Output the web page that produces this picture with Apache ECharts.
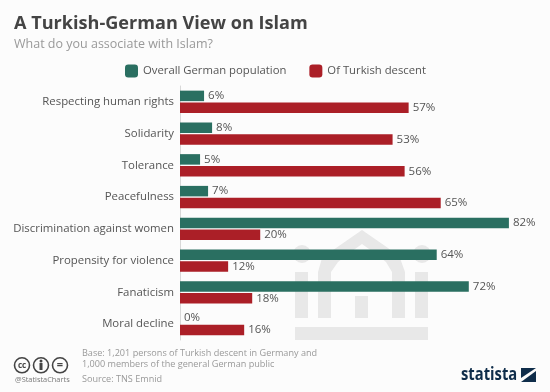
<!DOCTYPE html>
<html><head><meta charset="utf-8">
<style>html,body{margin:0;padding:0;background:#fcfcfc}#c{width:550px;height:392px}</style>
<script src="https://cdn.jsdelivr.net/npm/echarts@6/dist/echarts.min.js"></script></head>
<body><div id="c"></div>
<script>
const categories=["Respecting human rights","Solidarity","Tolerance","Peacefulness","Discrimination against women","Propensity for violence","Fanaticism","Moral decline"];
const germanPopulation=[6,8,5,7,82,64,72,0];
const turkishDescent=[57,53,56,65,20,12,18,16];
const seriesNames=["Overall German population","Of Turkish descent"];
const FONT='"Open Sans"';
const chart=echarts.init(document.getElementById('c'),null,{renderer:'canvas'});
const wm='#e8e8e8';
const logo='#0f2d4a';
function t(x,y,text,size,color,weight,extra){return {type:'text',z:5,x:x,y:y,style:Object.assign({text:text,fontFamily:FONT,fontSize:size,fill:color,fontWeight:weight||'normal',textVerticalAlign:'middle'},extra||{})};}
function r(x,y,w,h,c){return {type:'rect',z:0,shape:{x:x,y:y,width:w,height:h},style:{fill:c}};}
function circ(x,y,rad,c){return {type:'circle',z:0,shape:{cx:x,cy:y,r:rad},style:{fill:c}};}
function ring(x,y,c){return {type:'circle',z:5,shape:{cx:x,cy:y,r:7.5},style:{fill:'none',stroke:c,lineWidth:1.6}};}
chart.setOption({
  backgroundColor:'#fcfcfc',animation:false,
  textStyle:{fontFamily:FONT},
  legend:{left:120,top:59.5,itemWidth:13,itemHeight:13,itemGap:23,icon:'roundRect',
    textStyle:{fontFamily:FONT,fontSize:11.3,color:'#555'},data:seriesNames},
  grid:{left:180,top:86,width:361,height:254,containLabel:false,outerBoundsMode:'none'},
  xAxis:{type:'value',min:0,max:90,show:false},
  yAxis:{type:'category',inverse:true,data:categories,
    axisLine:{show:true,lineStyle:{color:'#d8d8d8',width:1}},axisTick:{show:false},
    axisLabel:{fontFamily:FONT,fontSize:11.4,color:'#555',margin:6}},
  series:[
    {name:seriesNames[0],type:'bar',barWidth:10.5,barGap:'14%',z:2,
     itemStyle:{color:'#2a6f61'},
     label:{show:true,position:'right',distance:4,formatter:'{c}%',fontFamily:FONT,fontSize:11.5,color:'#555'},
     data:germanPopulation},
    {name:seriesNames[1],type:'bar',barWidth:10.5,z:2,
     itemStyle:{color:'#ab1f27'},
     label:{show:true,position:'right',distance:4,formatter:'{c}%',fontFamily:FONT,fontSize:11.5,color:'#555'},
     data:turkishDescent}
  ],
  graphic:[
    r(295,272,13,46,wm),r(392,272,13,46,wm),r(415,272,13,46,wm),r(355,296,13,22,wm),r(295,327,133,13,wm),
    circ(302,254,9,wm),circ(422,254,9,wm),
    {type:'polygon',z:0,shape:{points:[[318,318],[318,272],[322,258],[336,248],[362,230],[388,248],[400,258],[405,272],[405,318],[392,318],[392,272],[386,262],[376,254],[362,244],[348,254],[338,262],[331,272],[331,318]]},style:{fill:wm}},
    t(14,24,'A Turkish-German View on Islam',18.1,'#444','bold'),
    t(14,44,'What do you associate with Islam?',12.5,'#999'),
    t(82,353.5,'Base: 1,201 persons of Turkish descent in Germany and',9.1,'#999'),
    t(82,364.5,'1,000 members of the general German public',9.1,'#999'),
    t(82,379,'Source: TNS Emnid',9.1,'#999'),
    t(15,379.5,'@StatistaCharts',7.4,'#777'),
    ring(22,365.3,'#444'),ring(41,365.3,'#444'),ring(60,365.3,'#444'),
    t(22,365.3,'cc',8,'#444','bold',{textAlign:'center'}),
    t(60,365,'=',11,'#444','bold',{textAlign:'center'}),
    {type:'circle',z:5,shape:{cx:41,cy:361,r:1.5},style:{fill:'#444'}},
    {type:'rect',z:5,shape:{x:39.5,y:363,width:3,height:7},style:{fill:'#444'}},
    Object.assign(t(461,375,'statista',18,logo,'bold'),{scaleX:0.82}),
    {type:'polygon',z:5,shape:{points:[[521,368],[536,368],[521,378]]},style:{fill:logo}},
    {type:'polygon',z:5,shape:{points:[[521,382],[536,371],[536,382]]},style:{fill:logo}}
  ]
});
</script></body></html>
